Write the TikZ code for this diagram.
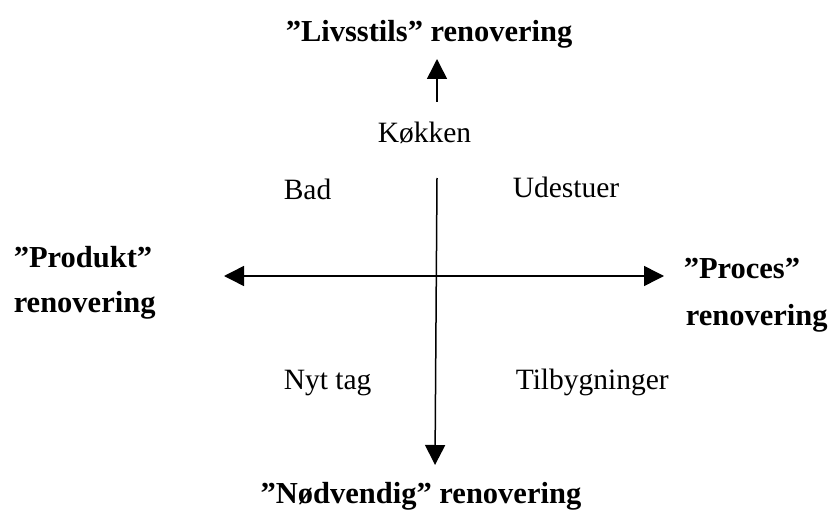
\documentclass[tikz,border=0pt]{standalone}
\usepackage{fontspec}
\setmainfont{Liberation Serif}
\usetikzlibrary{arrows.meta}
\begin{document}
\begin{tikzpicture}[x=1pt,y=-1pt,>={Triangle[length=20pt,width=20pt]}, line width=1.5pt, line join=round,
	felt/.style={inner sep=0pt,font=\fontsize{29.5}{35}\selectfont},
	akse/.style={inner sep=0pt,font=\fontsize{30.5}{36}\selectfont\bfseries}]
	\useasboundingbox (0,0) rectangle (837,513);
	% akser
	\coordinate (op1) at (437,102); \coordinate (op2) at (437,59);
	\coordinate (ned1) at (437,178); \coordinate (ned2) at (435,465);
	\coordinate (v) at (224,276); \coordinate (h) at (664,276);
	\draw[->] (op1)--(op2);
	\draw[->] (ned1)--(ned2);
	\draw[<->] (v)--(h);
	% overskrifter
	\node[akse,anchor=base west] (livs) at (285,42) {”Livsstils” renovering};
	\node[akse,anchor=base east] (nod) at (582,503) {”Nødvendig” renovering};
	\node[akse,anchor=base west] (prod) at (13,267) {”Produkt”};
	\node[akse,anchor=base west] (prodr) at (13,312) {renovering};
	\node[akse,anchor=base west] (proc) at (683,278) {”Proces”};
	\node[akse,anchor=base west] (procr) at (685,325) {renovering};
	% felter
	\node[felt,anchor=base west] (kok) at (377,143) {Køkken};
	\node[felt,anchor=base west] (bad) at (283,199) {Bad};
	\node[felt,anchor=base west] (ude) at (512,197) {Udestuer};
	\node[felt,anchor=base west] (tag) at (283,389) {Nyt tag};
	\node[felt,anchor=base west] (tilb) at (515,389) {Tilbygninger};
\end{tikzpicture}
\end{document}
